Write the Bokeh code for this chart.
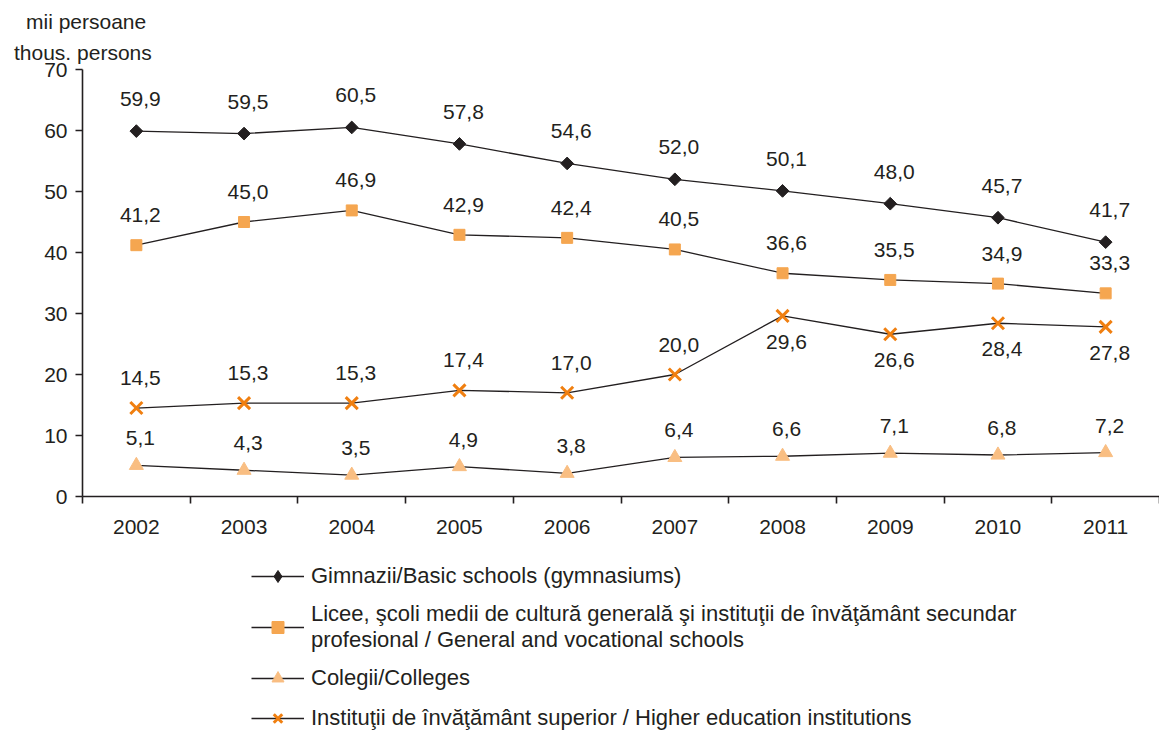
import numpy as np
from bokeh.plotting import figure
from bokeh.layouts import column
from bokeh.models import (ColumnDataSource, Range1d, FixedTicker, Legend, LegendItem,
                          Title, LinearAxis)
from bokeh.embed import file_html
from bokeh.resources import INLINE
from bokeh.core.properties import value

years = ["2002", "2003", "2004", "2005", "2006", "2007", "2008", "2009", "2010", "2011"]
basic = [59.9, 59.5, 60.5, 57.8, 54.6, 52.0, 50.1, 48.0, 45.7, 41.7]
licee = [41.2, 45.0, 46.9, 42.9, 42.4, 40.5, 36.6, 35.5, 34.9, 33.3]
colleges = [5.1, 4.3, 3.5, 4.9, 3.8, 6.4, 6.6, 7.1, 6.8, 7.2]
higher = [14.5, 15.3, 15.3, 17.4, 17.0, 20.0, 29.6, 26.6, 28.4, 27.8]
higher_label_below = [False, False, False, False, False, False, True, True, True, True]
y_ticks = [0, 10, 20, 30, 40, 50, 60, 70]

names = [
    "Gimnazii/Basic schools (gymnasiums)",
    "Licee, \u015fcoli medii de cultur\u0103 general\u0103 \u015fi institu\u0163ii de \u00eenv\u0103\u0163\u0103m\u00e2nt secundar\nprofesional / General and vocational schools",
    "Colegii/Colleges",
    "Institu\u0163ii de \u00eenv\u0103\u0163\u0103m\u00e2nt superior / Higher education institutions",
]
unit_lines = ["mii persoane", "thous. persons"]

FONT = "Liberation Sans"
INK = "#231F20"
FS = "21px"

xs = [i + 0.5 for i in range(len(years))]

def fmt(v):
    return f"{v:.1f}".replace(".", ",")

W = 1159
p = figure(width=W, height=550, output_backend="svg", toolbar_location=None,
           x_range=Range1d(0, len(years)), y_range=Range1d(0, 70),
           x_axis_type=None, y_axis_type=None,
           min_border_left=82, min_border_right=0, min_border_top=69, min_border_bottom=54)
p.outline_line_color = None
p.grid.visible = False

# axes
yaxis = LinearAxis(ticker=FixedTicker(ticks=y_ticks))
xaxis = LinearAxis(ticker=FixedTicker(ticks=xs, minor_ticks=list(range(len(years) + 1))),
                   major_label_overrides={x: y for x, y in zip(xs, years)})
for ax in (xaxis, yaxis):
    ax.axis_line_color = INK
    ax.axis_line_width = 1.6
    ax.major_tick_line_color = INK
    ax.major_tick_line_width = 1.6
    ax.minor_tick_line_color = INK
    ax.minor_tick_line_width = 1.6
    ax.major_label_text_font = FONT
    ax.major_label_text_font_size = FS
    ax.major_label_text_color = INK
yaxis.major_tick_out = 7
yaxis.major_tick_in = 0
yaxis.minor_tick_out = 0
yaxis.minor_tick_in = 0
yaxis.major_label_standoff = 8
xaxis.major_tick_out = 0
xaxis.major_tick_in = 0
xaxis.minor_tick_out = 7
xaxis.minor_tick_in = 0
xaxis.major_label_standoff = 16
p.add_layout(yaxis, "left")
p.add_layout(xaxis, "below")

series = [
    dict(vals=basic, marker="square", leg_marker="diamond", angle=np.pi / 4, size=9,
         fill=INK, line=INK, lw=1, off=-32),
    dict(vals=licee, marker="square", leg_marker="square", angle=0.0, size=11,
         fill="#F5A650", line="#F5A650", lw=1, off=-30),
    dict(vals=colleges, marker="triangle", leg_marker="triangle", angle=0.0, size=14,
         fill="#F9BE82", line="#F9BE82", lw=1, off=-27),
    dict(vals=higher, marker="x", leg_marker="x", angle=0.0, size=17,
         fill="#F07F10", line="#F07F10", lw=3, off=-30),
]

# legend panel: a second, axis-less figure under the chart (same x scale, y view far from data)
leg = figure(width=W, height=183, output_backend="svg", toolbar_location=None,
             x_range=p.x_range, y_range=Range1d(-1001, -1000), x_axis_type=None, y_axis_type=None,
             min_border_left=82, min_border_right=0, min_border_top=0, min_border_bottom=0)
leg.outline_line_color = None
leg.grid.visible = False

items = []
for s, name in zip(series, names):
    src = ColumnDataSource(dict(x=xs, y=s["vals"], lab=[fmt(v) for v in s["vals"]]))
    line_kw = dict(line_color=INK, line_width=1.3)
    mk_kw = dict(size=s["size"], fill_color=s["fill"], line_color=s["line"], line_width=s["lw"])
    p.line("x", "y", source=src, **line_kw)
    p.scatter("x", "y", source=src, marker=s["marker"], angle=s["angle"], **mk_kw)
    ln = leg.line("x", "y", source=src, **line_kw)
    sc = leg.scatter("x", "y", source=src, marker=s["leg_marker"], **mk_kw)
    items.append(LegendItem(label=name, renderers=[ln, sc]))
    if s["vals"] is higher:
        for flag, off in ((False, -30), (True, 26)):
            sub = ColumnDataSource(dict(
                x=[x for x, b in zip(xs, higher_label_below) if b == flag],
                y=[v for v, b in zip(higher, higher_label_below) if b == flag],
                lab=[fmt(v) for v, b in zip(higher, higher_label_below) if b == flag]))
            p.text("x", "y", text="lab", source=sub, x_offset=4, y_offset=off,
                   text_align="center", text_baseline="middle", text_font=value(FONT),
                   text_font_size=FS, text_color=INK)
    else:
        p.text("x", "y", text="lab", source=src, x_offset=4, y_offset=s["off"],
               text_align="center", text_baseline="middle", text_font=value(FONT),
               text_font_size=FS, text_color=INK)

legend = Legend(items=items, location=(169, 0), orientation="vertical",
                glyph_width=53, glyph_height=30, label_standoff=7, spacing=10,
                padding=0, margin=0, border_line_color=None, background_fill_alpha=0,
                label_text_font=FONT, label_text_font_size="22px", label_text_color=INK)
leg.add_layout(legend, "center")

# unit caption (two centered lines above the y axis)
t1 = Title(text=unit_lines[1], align="left", offset=-68.5, text_font=FONT,
           text_font_size=FS, text_font_style="normal", text_color=INK, standoff=12,
           text_line_height=1.0)
t2 = Title(text=unit_lines[0], align="left", offset=-56.5, text_font=FONT,
           text_font_size=FS, text_font_style="normal", text_color=INK, standoff=0,
           text_line_height=1.0)
p.add_layout(t1, "above")
p.add_layout(t2, "above")

layout = column(p, leg, spacing=0)
open("out.html", "w").write(file_html(layout, INLINE))
